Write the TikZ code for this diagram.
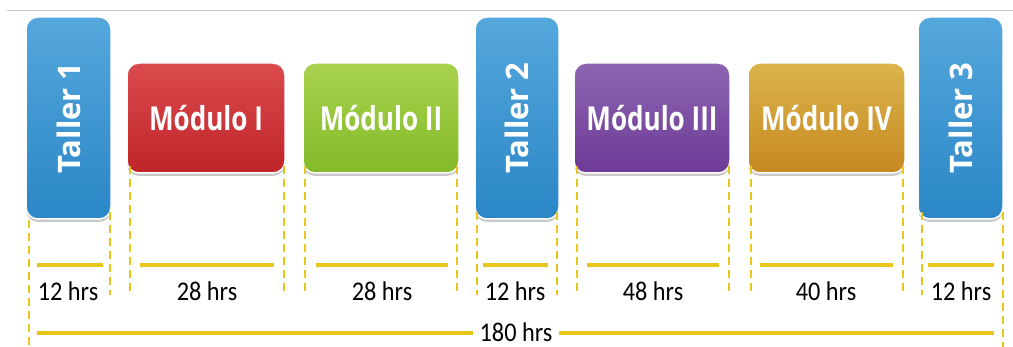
\documentclass[tikz,border=0pt]{standalone}
\usepackage{fontspec}
\setmainfont{Carlito}
\newfontfamily\boxfont{Open Sans}
\newfontfamily\modfont{Open Sans}[FakeStretch=0.79]
\newfontfamily\hrsfont{Carlito}[FakeStretch=0.9]
\usetikzlibrary{shadows}
\definecolor{tbtop}{HTML}{55A8DC}
\definecolor{tbbot}{HTML}{2A86C6}
\definecolor{redtop}{HTML}{DA4B4E}
\definecolor{redbot}{HTML}{BF2428}
\definecolor{grntop}{HTML}{A8D24E}
\definecolor{grnbot}{HTML}{84BA2A}
\definecolor{purtop}{HTML}{8E65B2}
\definecolor{purbot}{HTML}{6C3A96}
\definecolor{goldtop}{HTML}{DAB44A}
\definecolor{goldbot}{HTML}{C78822}
\definecolor{ylw}{HTML}{E8C61C}
\tikzset{
  blk/.style={rounded corners=12pt, draw=white, line width=1.5pt,
    drop shadow={shadow xshift=0pt, shadow yshift=-3pt, opacity=0.35, fill=black!60},
    inner sep=0pt},
  tallerbox/.style={blk, minimum width=85pt, minimum height=202pt, top color=tbtop, bottom color=tbbot},
  modbox/.style={blk, minimum height=110pt, text=white, font=\modfont\bfseries\fontsize{33}{36}\selectfont},
  talltext/.style={rotate=90, text=white, font=\boxfont\bfseries\fontsize{31}{34}\selectfont, inner sep=0pt},
  dashln/.style={draw=ylw, line width=2.2pt, dash pattern=on 8pt off 5pt},
  segln/.style={draw=ylw, line width=3.5pt},
  hrs/.style={font=\hrsfont\fontsize{27}{30}\selectfont, text=black, inner sep=1pt},
}
\begin{document}
\begin{tikzpicture}[x=1pt,y=-1pt]
\useasboundingbox[fill=white] (0,0) rectangle (1013,347);
\draw[black!22, line width=1pt] (7,11) -- (1013,11);

% boxes
\node[tallerbox] (t1) at (68.5,118) {};
\node[talltext] (t1x) at (t1) {Taller 1};
\node[modbox, minimum width=158pt, top color=redtop, bottom color=redbot] (m1) at (206,118) {Módulo I};
\node[modbox, minimum width=156pt, top color=grntop, bottom color=grnbot] (m2) at (381,118) {Módulo II};
\node[tallerbox, minimum width=84pt] (t2) at (517,118) {};
\node[talltext] (t2x) at (t2) {Taller 2};
\node[modbox, minimum width=156pt, top color=purtop, bottom color=purbot] (m3) at (652,118) {Módulo III};
\node[modbox, minimum width=157pt, top color=goldtop, bottom color=goldbot] (m4) at (826.5,118) {Módulo IV};
\node[tallerbox] (t3) at (960.5,118) {};
\node[talltext] (t3x) at (t3) {Taller 3};

% dashed guides
\coordinate (d1a) at (29,347);
\coordinate (d1b) at (110,295);
\coordinate (d2a) at (130,295);
\coordinate (d2b) at (284,295);
\coordinate (d3a) at (305,295);
\coordinate (d3b) at (457,295);
\coordinate (d4a) at (477,295);
\coordinate (d4b) at (557,295);
\coordinate (d5a) at (577,295);
\coordinate (d5b) at (729,295);
\coordinate (d6a) at (751,295);
\coordinate (d6b) at (903,295);
\coordinate (d7a) at (922,295);
\coordinate (d7b) at (1003,347);
\draw[dashln] (t1.south west -| d1a) -- (d1a);
\draw[dashln] ([yshift=8pt]t1.south east -| d1b) -- (d1b);
\draw[dashln] ([yshift=8pt]m1.south west -| d2a) -- (d2a);
\draw[dashln] ([yshift=8pt]m1.south east -| d2b) -- (d2b);
\draw[dashln] ([yshift=8pt]m2.south west -| d3a) -- (d3a);
\draw[dashln] ([yshift=8pt]m2.south east -| d3b) -- (d3b);
\draw[dashln] ([yshift=8pt]t2.south west -| d4a) -- (d4a);
\draw[dashln] ([yshift=8pt]t2.south east -| d4b) -- (d4b);
\draw[dashln] ([yshift=8pt]m3.south west -| d5a) -- (d5a);
\draw[dashln] ([yshift=8pt]m3.south east -| d5b) -- (d5b);
\draw[dashln] ([yshift=8pt]m4.south west -| d6a) -- (d6a);
\draw[dashln] ([yshift=8pt]m4.south east -| d6b) -- (d6b);
\draw[dashln] ([yshift=8pt]t3.south west -| d7a) -- (d7a);
\draw[dashln] ([yshift=8pt]t3.south east -| d7b) -- (d7b);

% segments
\coordinate (s1a) at (37,265); \coordinate (s1b) at (103,265);
\coordinate (s2a) at (140,265); \coordinate (s2b) at (274,265);
\coordinate (s3a) at (316,265); \coordinate (s3b) at (448,265);
\coordinate (s4a) at (483,265); \coordinate (s4b) at (548,265);
\coordinate (s5a) at (587,265); \coordinate (s5b) at (719,265);
\coordinate (s6a) at (760,265); \coordinate (s6b) at (893,265);
\coordinate (s7a) at (928,265); \coordinate (s7b) at (994,265);
\draw[segln] (s1a) -- (s1b);
\draw[segln] (s2a) -- (s2b);
\draw[segln] (s3a) -- (s3b);
\draw[segln] (s4a) -- (s4b);
\draw[segln] (s5a) -- (s5b);
\draw[segln] (s6a) -- (s6b);
\draw[segln] (s7a) -- (s7b);

% hours
\node[hrs] (h1) at (68,291) {12 hrs};
\node[hrs] (h2) at (207,291) {28 hrs};
\node[hrs] (h3) at (382,291) {28 hrs};
\node[hrs] (h4) at (515,291) {12 hrs};
\node[hrs] (h5) at (653,291) {48 hrs};
\node[hrs] (h6) at (826,291) {40 hrs};
\node[hrs] (h7) at (961,291) {12 hrs};

% total
\node[hrs, inner xsep=6pt, inner ysep=0pt] (tot) at (516,332) {180 hrs};
\coordinate (ta) at (37,333);
\coordinate (tb) at (994,333);
\draw[segln] (ta) -- (ta -| tot.west);
\draw[segln] (tb -| tot.east) -- (tb);
\end{tikzpicture}
\end{document}
